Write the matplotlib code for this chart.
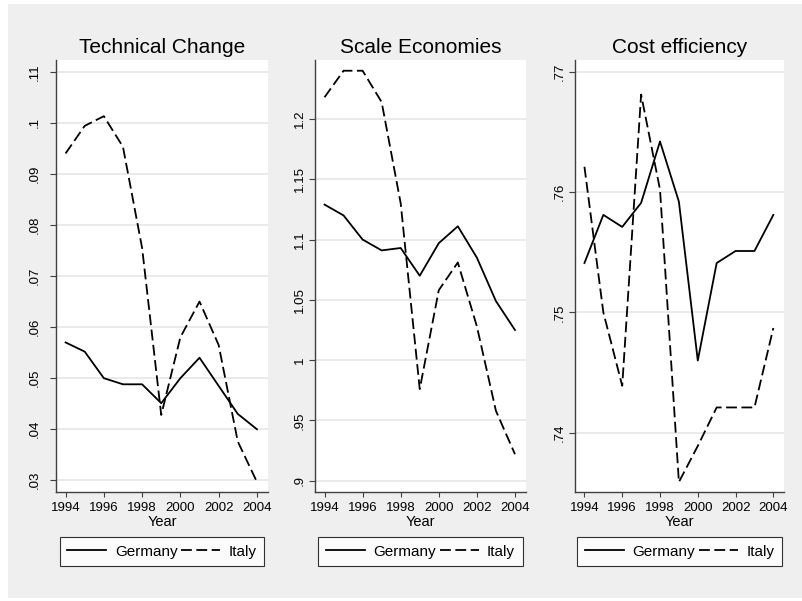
"""
Germany vs Italy banking: technical change, scale economies and cost efficiency, 1994-2004.
Three Stata-style panels side by side.
"""
import matplotlib
matplotlib.use("Agg")
import matplotlib.pyplot as plt
from matplotlib.patches import Rectangle

plt.rcParams["font.family"] = ["Liberation Sans", "DejaVu Sans"]

YEARS = [1994, 1995, 1996, 1997, 1998, 1999, 2000, 2001, 2002, 2003, 2004]
XTICKS = [1994, 1996, 1998, 2000, 2002, 2004]

TECH_GERMANY = [0.057, 0.0552, 0.050, 0.0488, 0.0488, 0.0451, 0.050, 0.054, 0.0485, 0.043, 0.040]
TECH_ITALY = [0.094, 0.0994, 0.1013, 0.0953, 0.0755, 0.0428, 0.058, 0.065, 0.0565, 0.0376, 0.0297]

SCALE_GERMANY = [1.129, 1.120, 1.100, 1.091, 1.093, 1.070, 1.097, 1.111, 1.085, 1.049, 1.025]
SCALE_ITALY = [1.218, 1.240, 1.240, 1.214, 1.130, 0.976, 1.058, 1.081, 1.028, 0.958, 0.922]

COST_GERMANY = [0.7541, 0.7581, 0.7571, 0.7591, 0.7642, 0.7592, 0.746, 0.7541, 0.7551, 0.7551, 0.7581]
COST_ITALY = [0.7621, 0.750, 0.7439, 0.7681, 0.7602, 0.7359, 0.7389, 0.7421, 0.7421, 0.7421, 0.7487]

TECH_TICKS = [0.03, 0.04, 0.05, 0.06, 0.07, 0.08, 0.09, 0.10, 0.11]
TECH_LABELS = [".03", ".04", ".05", ".06", ".07", ".08", ".09", ".1", ".11"]
SCALE_TICKS = [0.90, 0.95, 1.00, 1.05, 1.10, 1.15, 1.20]
SCALE_LABELS = [".9", ".95", "1", "1.05", "1.1", "1.15", "1.2"]
COST_TICKS = [0.74, 0.75, 0.76, 0.77]
COST_LABELS = [".74", ".75", ".76", ".77"]

TITLES = ["Technical Change", "Scale Economies", "Cost efficiency"]
SERIES = ["Germany", "Italy"]

BG = "#efefef"
GRID = "#e6e6e6"
AXIS = "#404040"
W, H = 803, 601


def px_box(x0, x1, y_top, y_bot):
    # pixel box (from top-left) -> figure fraction rect
    return [x0 / W, 1 - y_bot / H, (x1 - x0) / W, (y_bot - y_top) / H]


def draw_panel(fig, rect, title, germany, italy, ticks, labels, ylim, ypad):
    ax = fig.add_axes(rect)
    ax.set_facecolor("white")
    ax.plot(YEARS, germany, color="black", lw=1.3, label=SERIES[0], zorder=3)
    ax.plot(YEARS, italy, color="black", lw=1.3, ls=(0, (6, 2.5)), label=SERIES[1], zorder=3)

    ax.set_xlim(1993.5, 2004.58)
    ax.set_ylim(*ylim)
    ax.set_xticks(XTICKS)
    ax.set_yticks(ticks)
    ax.set_yticklabels(labels, rotation=90, va="center")
    ax.yaxis.grid(True, color=GRID, lw=1.2)
    ax.set_axisbelow(True)

    for s in ("top", "right"):
        ax.spines[s].set_visible(False)
    for s in ("left", "bottom"):
        ax.spines[s].set_color(AXIS)
        ax.spines[s].set_linewidth(1.0)
    ax.tick_params(axis="y", length=4.3, width=0.8, color=AXIS, labelsize=9.5, pad=ypad)
    ax.tick_params(axis="x", length=3.6, width=0.8, color=AXIS, labelsize=9.5, pad=3.5)

    ax.set_xlabel("Year", fontsize=10.5, labelpad=1)
    ax.set_title(title, fontsize=15, pad=4.8)

    leg = ax.legend(loc="upper center", bbox_to_anchor=(0.5, -0.105), ncol=2,
                    frameon=True, fancybox=False, edgecolor="black", fontsize=11,
                    handlelength=2.55, handletextpad=0.55, columnspacing=0.25,
                    borderpad=0.5, borderaxespad=0)
    leg.get_frame().set_linewidth(0.8)
    return ax


fig = plt.figure(figsize=(W / 100, H / 100), dpi=100)
fig.patch.set_facecolor("white")
fig.add_artist(Rectangle((8 / W, 3 / H), 795 / W, 594 / H, transform=fig.transFigure,
                         facecolor=BG, edgecolor="none", zorder=-5))

draw_panel(fig, px_box(56, 268, 60, 491.7), TITLES[0], TECH_GERMANY, TECH_ITALY,
           TECH_TICKS, TECH_LABELS, (0.02777, 0.1123), 7)
draw_panel(fig, px_box(315, 526, 60, 491.7), TITLES[1], SCALE_GERMANY, SCALE_ITALY,
           SCALE_TICKS, SCALE_LABELS, (0.8909, 1.2489), 2.5)
draw_panel(fig, px_box(575, 784.3, 60, 491.7), TITLES[2], COST_GERMANY, COST_ITALY,
           COST_TICKS, COST_LABELS, (0.7351, 0.77097), 2.5)

fig.savefig("out.png", dpi=100, facecolor="white")
